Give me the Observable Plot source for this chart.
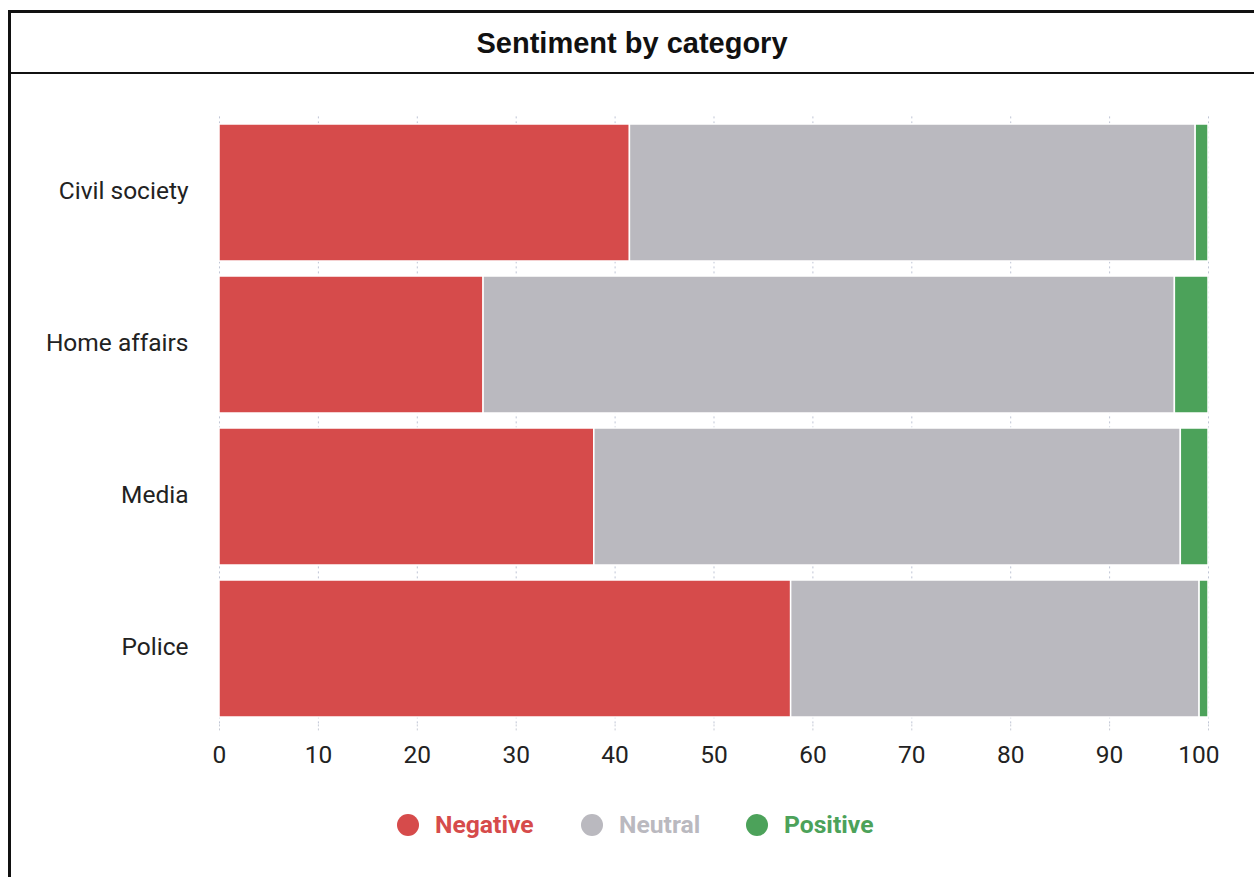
<!DOCTYPE html>
<html>
<head>
<meta charset="utf-8">
<script src="https://cdn.jsdelivr.net/npm/d3@7"></script>
<script src="https://cdn.jsdelivr.net/npm/@observablehq/plot@0.6"></script>
<style>
  html, body { margin: 0; padding: 0; width: 1254px; height: 877px; overflow: hidden; background: #fff; }
  #frame { position: absolute; left: 8px; top: 10px; width: 1300px; height: 950px; border: 3px solid #111; box-sizing: border-box; }
  #header { position: absolute; left: 8px; top: 10px; width: 1300px; height: 64px; border-bottom: 2.5px solid #111; box-sizing: border-box; }
  #title { position: absolute; left: 0; top: 25px; width: 1264px; text-align: center; font-family: "Liberation Sans", Arial, sans-serif; font-weight: bold; font-size: 29px; color: #111; line-height: 36px; }
  #chart { position: absolute; left: 0; top: 74px; }
  #legend { position: absolute; top: 810px; left: 0; width: 1254px; font-family: Roboto, sans-serif; font-weight: bold; font-size: 24.7px; }
  .item { position: absolute; display: flex; align-items: center; }
  .dot { width: 22px; height: 22px; border-radius: 50%; margin-right: 16px; }
</style>
</head>
<body>
<div id="frame"></div>
<div id="header"></div>
<div id="title">Sentiment by category</div>
<div id="chart"></div>
<div id="legend"></div>
<script>
const categories = ["Civil society", "Home affairs", "Media", "Police"];
const negative = [41.5, 26.7, 37.9, 57.8];
const neutral = [57.2, 69.9, 59.3, 41.3];
const positive = [1.3, 3.4, 2.8, 0.9];
const sentiments = ["Negative", "Neutral", "Positive"];
const colors = ["#d64b4b", "#bab9bf", "#4ca25a"];
const xTicks = [0, 10, 20, 30, 40, 50, 60, 70, 80, 90, 100];

const series = [negative, neutral, positive];
const rows = [];
categories.forEach((c, i) => {
  sentiments.forEach((s, j) => {
    rows.push({category: c, sentiment: s, value: series[j][i]});
  });
});

const lastTick = xTicks[xTicks.length - 1];

const chart = Plot.plot({
  width: 1254,
  height: 716,
  marginLeft: 219,
  marginRight: 46,
  marginTop: 42.4,
  marginBottom: 65.6,
  style: {fontFamily: "Roboto, sans-serif", fontSize: "24.5px", color: "#222", background: "transparent"},
  x: {domain: [0, 100], ticks: xTicks, label: null},
  y: {domain: categories, label: null, paddingInner: 0.1, paddingOuter: 0.05},
  color: {domain: sentiments, range: colors},
  marks: [
    Plot.gridX(xTicks, {stroke: "#b8bfd0", strokeOpacity: 0.9, strokeDasharray: "2,3", strokeWidth: 1}),
    Plot.barX(rows, Plot.stackX({
      y: "category",
      x: "value",
      fill: "sentiment",
      order: sentiments,
      stroke: "#fff",
      strokeWidth: 1.5
    })),
    Plot.axisX(xTicks, {tickSize: 6, tickPadding: 15, stroke: "#c8ccd6", strokeDasharray: "2,2", fill: "#222", label: null, tickFormat: d => d === lastTick ? "" : String(d)}),
    Plot.axisX([lastTick], {tickSize: 0, tickPadding: 21, fill: "#222", label: null, textAnchor: "end", dx: 11}),
    Plot.axisY({tickSize: 0, tickPadding: 31, fill: "#222", label: null, dy: -2})
  ]
});
document.getElementById("chart").appendChild(chart);

const legend = document.getElementById("legend");
const lx = [397, 581, 746];
sentiments.forEach((s, i) => {
  const item = document.createElement("div");
  item.className = "item";
  item.style.left = lx[i] + "px";
  item.style.top = "0px";
  item.style.color = colors[i];
  const dot = document.createElement("span");
  dot.className = "dot";
  dot.style.background = colors[i];
  const t = document.createElement("span");
  t.textContent = s;
  item.appendChild(dot);
  item.appendChild(t);
  legend.appendChild(item);
});
</script>
</body>
</html>
